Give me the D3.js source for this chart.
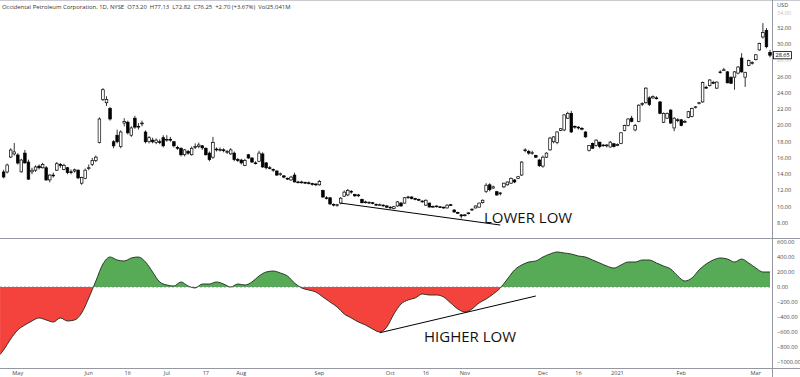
<!DOCTYPE html>
<html>
<head>
<meta charset="utf-8">
<script src="https://cdn.jsdelivr.net/npm/d3@7"></script>
<style>
  body { margin: 0; background: #fff; }
  svg { display: block; }
</style>
</head>
<body>
<div id="chart"></div>
<script>
// Daily candles, one per trading day: [open, high, low, close]
const candles = [
  [14.28,14.55,13.5,13.66],[14.28,15.3,14.1,15.14],[16.12,17.2,16.0,16.98],[16.5,17.85,16.3,16.75],
  [16.37,16.6,15.2,15.38],[14.3,15.9,14.2,15.75],[16.6,17.0,15.3,15.4],[15.5,15.8,13.3,13.4],
  [14.3,14.8,14.0,14.5],[14.5,15.1,14.3,14.9],[15.0,15.2,14.6,14.8],[14.8,15.4,14.7,15.2],
  [14.8,15.0,13.2,13.3],[13.3,14.0,13.0,13.9],[13.9,14.2,13.6,13.8],[14.5,15.5,14.4,15.3],
  [15.2,15.4,14.8,15.1],[14.6,15.3,14.5,15.1],[14.8,14.9,14.0,14.2],[14.3,14.6,14.0,14.25],
  [14.4,14.7,14.2,14.55],[14.5,14.6,13.4,13.55],[12.9,13.7,12.7,13.6],[13.5,14.7,13.4,14.5],
  [14.7,15.2,14.5,14.8],[15.2,16.0,15.0,15.7],[15.7,16.3,15.5,16.1],[17.9,21.0,17.8,20.8],
  [23.2,24.6,23.0,24.4],[22.8,23.6,22.4,23.2],[22.1,22.3,20.6,20.8],[18.0,18.2,17.2,17.5],
  [18.8,19.5,17.8,18.0],[17.4,19.4,17.2,19.2],[20.3,20.9,19.9,20.5],[20.4,20.6,18.9,19.1],
  [18.8,19.9,18.6,19.7],[20.9,21.2,19.6,19.8],[19.9,20.3,19.5,19.9],[20.2,20.6,19.9,20.3],
  [19.2,19.4,17.8,18.0],[18.0,18.7,17.8,18.5],[18.2,18.5,17.8,18.0],[17.9,18.4,17.7,18.2],
  [18.0,18.3,17.7,17.9],[18.5,18.8,17.3,17.5],[18.2,18.8,18.0,18.3],[18.3,18.6,18.0,18.2],
  [18.0,18.1,17.3,17.5],[17.3,17.5,17.0,17.2],[17.2,17.3,16.2,16.4],[16.4,17.1,16.2,17.0],
  [16.8,17.0,16.4,16.6],[16.4,17.4,16.3,17.2],[17.3,17.8,17.1,17.4],[17.4,17.9,17.2,17.6],
  [17.5,17.6,17.0,17.25],[17.2,17.3,16.3,16.4],[16.6,16.8,15.6,15.8],[16.1,18.6,15.9,17.9],
  [17.1,17.3,16.8,17.0],[17.0,17.3,16.8,17.05],[17.0,17.2,16.7,16.9],[16.8,17.0,16.5,16.8],
  [16.5,17.2,16.4,17.0],[16.6,16.8,15.6,15.8],[15.8,16.0,15.5,15.7],[15.75,15.9,15.2,15.4],
  [15.1,15.9,15.0,15.7],[16.4,16.5,15.9,16.0],[16.0,16.1,15.4,15.5],[15.4,15.6,15.2,15.35],
  [15.6,16.9,15.5,16.6],[16.5,16.7,14.8,14.9],[15.4,15.5,14.6,14.8],[14.8,15.0,14.6,14.75],
  [14.6,14.7,14.3,14.5],[14.4,14.5,13.8,13.9],[14.0,14.2,13.8,14.05],[13.8,13.9,13.5,13.65],
  [13.5,13.6,13.3,13.45],[13.3,13.8,13.2,13.65],[13.9,14.2,13.0,13.05],[13.05,13.2,12.9,13.0],
  [13.0,13.2,12.85,13.05],[13.0,13.1,12.8,12.95],[12.95,13.1,12.75,12.9],[12.85,12.95,12.6,12.75],
  [12.8,12.9,12.55,12.7],[12.7,13.3,12.6,13.1],[12.0,12.1,11.1,11.2],[11.1,11.3,10.9,11.05],
  [11.1,11.2,10.2,10.35],[10.3,10.4,10.05,10.2],[10.2,10.35,10.0,10.25],[10.45,11.2,10.3,11.05],
  [11.3,12.0,11.2,11.8],[11.45,12.2,11.3,12.0],[11.9,12.05,11.6,11.85],[11.5,11.6,11.2,11.35],
  [11.4,11.6,11.2,11.45],[10.9,11.0,10.4,10.5],[10.6,10.75,10.4,10.6],[10.5,10.65,10.35,10.55],
  [10.5,10.6,10.3,10.45],[10.3,10.4,10.1,10.2],[10.25,10.4,10.1,10.25],[10.2,10.3,10.0,10.15],
  [10.1,10.2,9.85,9.95],[9.95,10.05,9.75,9.85],[9.8,10.1,9.7,10.0],[10.1,10.7,10.0,10.6],
  [10.45,10.6,10.0,10.1],[10.45,11.2,10.4,11.1],[11.15,11.35,11.0,11.2],[11.2,11.3,10.9,11.0],
  [11.0,11.1,10.8,10.95],[10.9,11.0,10.7,10.85],[10.7,10.8,10.5,10.6],[10.2,10.9,10.1,10.8],
  [10.45,10.5,9.9,9.97],[10.0,10.15,9.85,10.05],[10.05,10.15,9.9,10.1],[10.0,10.1,9.85,9.95],
  [9.95,10.0,9.75,9.85],[9.85,10.3,9.8,10.2],[10.25,10.35,10.1,10.2],[9.6,9.7,9.3,9.35],
  [9.3,9.4,9.1,9.2],[9.0,9.1,8.55,8.86],[8.9,9.1,8.8,9.0],[9.15,9.3,9.05,9.25],
  [9.6,9.8,9.5,9.7],[9.85,10.15,9.8,10.1],[9.95,10.5,9.9,10.45],[10.5,10.9,10.4,10.8],
  [11.9,12.9,11.7,12.65],[12.7,12.9,11.9,12.1],[12.3,12.6,12.2,12.45],[11.85,11.95,11.35,11.45],
  [11.6,11.8,11.4,11.7],[12.45,12.95,12.3,12.9],[12.7,13.1,12.6,13.05],[12.9,13.6,12.8,13.5],
  [13.3,13.4,12.9,13.05],[13.5,13.8,13.4,13.7],[13.9,15.6,13.8,15.5],[16.9,17.2,16.7,17.0],
  [16.8,17.0,16.4,16.6],[16.6,16.9,16.4,16.65],[16.3,16.4,16.0,16.1],[15.75,15.9,14.9,15.05],
  [15.0,16.3,14.8,16.1],[16.1,16.7,16.0,16.6],[17.0,18.6,16.9,18.45],[18.0,18.7,17.8,18.6],
  [17.9,19.3,17.7,19.2],[19.4,19.7,19.3,19.6],[19.45,21.4,19.3,21.3],[20.9,21.7,20.8,21.5],
  [21.5,21.8,19.1,19.2],[19.9,20.0,19.6,19.8],[19.8,19.9,19.5,19.7],[19.65,19.8,19.4,19.55],
  [19.2,19.3,18.5,18.6],[16.95,17.6,16.8,17.55],[17.8,17.9,17.1,17.2],[17.55,18.3,17.4,18.2],
  [17.95,18.0,17.2,17.4],[17.6,17.7,17.4,17.55],[17.5,17.7,17.3,17.6],[17.35,18.1,17.3,17.95],
  [17.75,17.85,17.3,17.4],[17.55,17.8,17.45,17.65],[17.8,19.2,17.7,19.1],[19.4,20.1,19.3,20.0],
  [20.0,20.9,19.9,20.8],[20.9,21.2,20.4,20.5],[19.45,20.2,19.3,20.0],[20.5,22.6,20.4,22.5],
  [22.6,22.85,22.4,22.7],[22.8,24.7,22.7,24.6],[23.4,23.6,22.4,22.6],[23.4,23.7,23.3,23.55],
  [23.4,23.6,23.2,23.35],[22.9,23.0,21.4,21.5],[20.4,21.6,20.3,21.5],[20.9,21.6,20.8,21.5],
  [21.9,22.0,20.2,20.3],[19.7,21.0,19.3,20.9],[20.7,20.9,20.4,20.6],[20.7,20.8,19.9,20.0],
  [20.4,20.7,20.3,20.5],[21.0,21.8,20.9,21.7],[21.1,22.2,21.0,22.1],[22.2,22.4,22.1,22.3],
  [22.7,22.9,22.6,22.8],[22.9,25.4,22.8,25.3],[24.7,24.9,24.5,24.6],[24.9,25.7,24.8,25.6],
  [25.3,25.5,25.1,25.2],[24.6,25.4,24.5,25.35],[26.5,26.8,26.4,26.6],[26.8,27.1,26.7,26.85],
  [26.6,26.7,25.2,25.25],[25.95,26.0,25.1,25.2],[25.95,26.7,24.4,26.6],[26.45,27.3,26.3,27.2],
  [28.3,28.9,26.5,26.6],[25.95,26.6,24.75,26.55],[27.4,28.1,27.3,28.0],[27.7,27.9,27.5,27.75],
  [28.1,28.8,28.0,28.7],[29.3,30.2,29.2,30.1],[30.9,32.6,30.7,31.45],[31.7,32.0,29.5,29.7],
  [29.0,29.3,28.4,28.65]
];

// Oscillator: [bar index, value]
const oscPoints = [
  [-1,-900],[0,-840],[2,-693],[4,-573],[6,-507],[8,-453],[10,-413],[12,-440],[14,-467],[16,-413],
  [18,-453],[20,-440],[22,-347],[24,-147],[26,80],[28,307],[30,400],[32,360],[34,347],[36,387],
  [38,400],[40,333],[42,200],[44,67],[46,27],[48,13],[50,67],[52,13],[54,-13],[56,40],
  [58,40],[60,67],[62,40],[64,0],[66,40],[68,27],[70,67],[72,147],[74,200],[76,213],
  [78,187],[80,147],[82,53],[84,-13],[86,-40],[88,-67],[90,-133],[92,-200],[94,-267],[96,-360],
  [98,-413],[100,-467],[102,-507],[104,-560],[106,-600],[108,-533],[110,-360],[112,-227],[114,-173],[116,-147],
  [118,-93],[120,-107],[122,-107],[124,-133],[126,-213],[128,-293],[130,-333],[132,-293],[134,-213],[136,-160],
  [138,-93],[140,-13],[142,107],[144,227],[146,293],[148,333],[150,347],[152,400],[154,440],[156,467],
  [158,453],[160,440],[162,413],[164,400],[166,360],[168,320],[170,280],[172,253],[174,293],[176,333],
  [178,333],[180,360],[182,360],[184,320],[186,280],[188,240],[190,147],[192,80],[194,120],[196,227],
  [198,307],[200,360],[202,387],[204,373],[206,333],[208,373],[210,320],[212,253],[214,200],[216,200]
];

const priceTicks = [8, 10, 12, 14, 16, 18, 20, 22, 24, 26, 28, 30, 32];
const oscTicks = [600, 400, 200, 0, -200, -400, -600, -800, -1000];
const dateTicks = [[4,"May"],[24,"Jun"],[35,"16"],[46,"Jul"],[57,"17"],[67,"Aug"],[89,"Sep"],[109,"Oct"],
  [119,"16"],[130,"Nov"],[152,"Dec"],[162,"16"],[173,"2021"],[191,"Feb"],[212,"Mar"]];
const header = "Occidental Petroleum Corporation, 1D, NYSE  O73.20  H77.13  L72.82  C76.25  +2.70 (+3.67%)  Vol25.041M";
// trend lines: [index, value] end points
const priceTrend = [[95, 10.45], [140, 7.75]];
const oscTrend = [[106, -610], [150, -120]];

const W = 800, H = 377, plotRight = 772;
const font = "'Open Sans', 'DejaVu Sans', sans-serif";

const x = d3.scaleLinear().domain([0, candles.length - 1]).range([3.6, 770]);
const yPrice = d3.scaleLinear().domain([8, 32]).range([223, 28]);
const yOsc = d3.scaleLinear().domain([-1000, 600]).range([362, 242]);

const svg = d3.select("#chart").append("svg")
  .attr("width", W).attr("height", H)
  .style("font-family", font);

// frame lines
svg.append("line").attr("x1", 0).attr("x2", W).attr("y1", 0.5).attr("y2", 0.5).attr("stroke", "#c8cacf");
svg.append("line").attr("x1", 0).attr("x2", W).attr("y1", 238.5).attr("y2", 238.5).attr("stroke", "#9598a1");
svg.append("line").attr("x1", 0).attr("x2", W).attr("y1", 368.5).attr("y2", 368.5).attr("stroke", "#9598a1");
svg.append("line").attr("x1", plotRight + 0.5).attr("x2", plotRight + 0.5).attr("y1", 0).attr("y2", H).attr("stroke", "#9598a1");

// oscillator panel
const defs = svg.append("defs");
defs.append("clipPath").attr("id", "above")
  .append("rect").attr("x", 0).attr("y", 239).attr("width", plotRight).attr("height", yOsc(0) - 239);
defs.append("clipPath").attr("id", "below")
  .append("rect").attr("x", 0).attr("y", yOsc(0)).attr("width", plotRight).attr("height", 368 - yOsc(0));

const area = d3.area()
  .x(d => Math.max(0, x(d[0])))
  .y0(yOsc(0))
  .y1(d => yOsc(d[1]))
  .curve(d3.curveMonotoneX);
const line = d3.line()
  .x(d => Math.max(0, x(d[0])))
  .y(d => yOsc(d[1]))
  .curve(d3.curveMonotoneX);

svg.append("path").datum(oscPoints).attr("d", area)
  .attr("fill", "#57ab57").attr("clip-path", "url(#above)");
svg.append("path").datum(oscPoints).attr("d", area)
  .attr("fill", "#f4433c").attr("clip-path", "url(#below)");
svg.append("path").datum(oscPoints).attr("d", line)
  .attr("fill", "none").attr("stroke", "#1e2a1e").attr("stroke-width", 0.9);
svg.append("line")
  .attr("x1", 0).attr("x2", plotRight).attr("y1", yOsc(0)).attr("y2", yOsc(0))
  .attr("stroke", "#787b86").attr("stroke-width", 0.7).attr("stroke-dasharray", "2,2");

// candles
const g = svg.append("g");
const bodyW = 2.6;
candles.forEach((c, i) => {
  const [o, h, l, cl] = c;
  const cx = x(i);
  g.append("line")
    .attr("x1", cx).attr("x2", cx)
    .attr("y1", yPrice(h)).attr("y2", yPrice(l))
    .attr("stroke", "#000").attr("stroke-width", 0.8);
  const top = yPrice(Math.max(o, cl)), bot = yPrice(Math.min(o, cl));
  g.append("rect")
    .attr("x", cx - bodyW / 2).attr("y", top)
    .attr("width", bodyW).attr("height", Math.max(0.8, bot - top))
    .attr("fill", cl >= o ? "#fff" : "#000")
    .attr("stroke", "#000").attr("stroke-width", 0.7);
});

// trend lines and notes
svg.append("line")
  .attr("x1", x(priceTrend[0][0])).attr("y1", yPrice(priceTrend[0][1]))
  .attr("x2", x(priceTrend[1][0])).attr("y2", yPrice(priceTrend[1][1]))
  .attr("stroke", "#000").attr("stroke-width", 1);
svg.append("line")
  .attr("x1", x(oscTrend[0][0])).attr("y1", yOsc(oscTrend[0][1]))
  .attr("x2", x(oscTrend[1][0])).attr("y2", yOsc(oscTrend[1][1]))
  .attr("stroke", "#000").attr("stroke-width", 1);
svg.append("text").attr("x", 484).attr("y", 223)
  .attr("font-size", "15px").attr("fill", "#111").text("LOWER LOW");
svg.append("text").attr("x", 424).attr("y", 342)
  .attr("font-size", "15px").attr("fill", "#111").text("HIGHER LOW");

// header
svg.append("text").attr("x", 2).attr("y", 8.5)
  .attr("font-size", "5.9px").attr("fill", "#333").attr("xml:space", "preserve")
  .style("white-space", "pre").text(header);

// right axes
const axisText = "#4a4a4a";
const last = candles[candles.length - 1][3];
svg.append("g").selectAll("text").data(priceTicks).join("text")
  .attr("x", 777).attr("y", d => yPrice(d)).attr("dy", "0.35em")
  .attr("font-size", "5.6px").attr("fill", axisText)
  .attr("opacity", d => Math.abs(yPrice(d) - yPrice(last)) < 7 ? 0.35 : 1)
  .text(d => d3.format(".2f")(d));
svg.append("text").attr("x", 777).attr("y", yPrice(34) + 1).attr("dy", "0.35em")
  .attr("font-size", "5.6px").attr("fill", "#c4c4c4").text("34.00");
svg.append("text").attr("x", 777).attr("y", 6.5)
  .attr("font-size", "5.6px").attr("fill", axisText).text("USD");

svg.append("rect").attr("x", 773.5).attr("y", yPrice(last) - 3.6)
  .attr("width", 18).attr("height", 7.2)
  .attr("fill", "#fff").attr("stroke", "#000").attr("stroke-width", 0.8);
svg.append("text").attr("x", 775.5).attr("y", yPrice(last)).attr("dy", "0.35em")
  .attr("font-size", "5.6px").attr("fill", "#000").text(d3.format(".2f")(last));

svg.append("g").selectAll("text").data(oscTicks).join("text")
  .attr("x", 777).attr("y", d => yOsc(d)).attr("dy", "0.35em")
  .attr("font-size", "5.6px").attr("fill", axisText)
  .text(d => d3.format(".2f")(d).replace("-", "\u2212"));

// time axis
svg.append("g").selectAll("text").data(dateTicks).join("text")
  .attr("x", d => x(d[0])).attr("y", 375)
  .attr("text-anchor", "middle")
  .attr("font-size", "5.6px").attr("fill", axisText)
  .text(d => d[1]);
</script>
</body>
</html>
